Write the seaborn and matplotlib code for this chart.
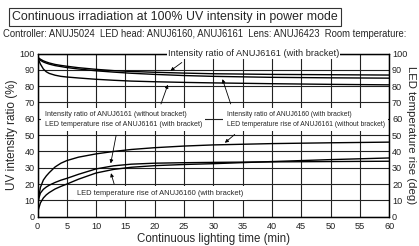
import matplotlib
matplotlib.use("Agg")
import matplotlib.pyplot as plt
import seaborn as sns
import pandas as pd

# time axis (min)
t = [0, 0.2, 0.5, 1, 1.5, 2, 3, 4, 5, 7, 10, 13, 16, 20, 25, 30, 40, 50, 60]

# UV intensity ratio (%)
ratio_6161_with = [98, 97.3, 96.5, 95.5, 94.8, 94.2, 93.3, 92.7, 92.2, 91.3, 90.3, 89.5, 89, 88.5, 88, 87.6, 87.2, 87, 86.8]
ratio_6160_with = [97, 96.5, 95.8, 94.8, 94.1, 93.5, 92.6, 92, 91.4, 90.5, 89.4, 88.6, 87.9, 87.2, 86.5, 86, 85.4, 85.1, 84.9]
ratio_6161_without = [98, 96, 93.5, 90.5, 88.8, 87.8, 86.7, 86, 85.6, 85, 84.2, 83.6, 83.1, 82.7, 82.3, 82, 81.5, 81.1, 80.8]

# LED temperature rise (deg)
temp_6161_without = [2, 12, 18, 22.5, 25, 27, 30.5, 32.8, 34.4, 36.5, 38.5, 40, 41.2, 42.3, 43.3, 44, 44.8, 45.3, 45.7]
temp_6161_with = [6, 11, 14.5, 16.8, 18.2, 19.3, 21, 22.4, 23.5, 26, 29.3, 31.2, 32.2, 32.8, 33.1, 33.3, 33.6, 33.8, 34]
temp_6160_with = [2, 5, 8.5, 11.5, 13.4, 14.8, 17, 18.6, 20, 23, 26.8, 29, 30.3, 31.3, 32, 32.5, 33.8, 35, 36]

title = "Continuous irradiation at 100% UV intensity in power mode"
subtitle = "Controller: ANUJ5024  LED head: ANUJ6160, ANUJ6161  Lens: ANUJ6423  Room temperature:"

sns.set_style("white")
plt.rcParams["font.family"] = ["Liberation Sans", "DejaVu Sans"]
narrow = ["Liberation Sans Narrow", "Liberation Sans", "DejaVu Sans"]

ratio = pd.DataFrame({"t": t * 3,
                      "v": ratio_6161_with + ratio_6160_with + ratio_6161_without,
                      "s": ["a"] * len(t) + ["b"] * len(t) + ["c"] * len(t)})
temp = pd.DataFrame({"t": t * 3,
                     "v": temp_6161_without + temp_6161_with + temp_6160_with,
                     "s": ["d"] * len(t) + ["e"] * len(t) + ["f"] * len(t)})

fig = plt.figure(figsize=(4.19, 2.46), dpi=100)
ax = fig.add_axes([0.0895, 0.119, 0.8395, 0.6635])
ax2 = ax.twinx()

sns.lineplot(data=ratio, x="t", y="v", units="s", estimator=None, color="black",
             lw=1.0, ax=ax, zorder=3)
sns.lineplot(data=temp, x="t", y="v", units="s", estimator=None, color="black",
             lw=1.0, ax=ax2, zorder=3)

for a in (ax, ax2):
    a.set_xlim(0, 60)
    a.set_ylim(0, 100)
    a.set_yticks(range(0, 101, 10))
    a.tick_params(length=0, pad=2, labelsize=6.6, colors="#222222")
    for sp in a.spines.values():
        sp.set_color("black")
        sp.set_linewidth(0.9)
ax.tick_params(axis="x", pad=3.5)
ax.set_xticks(range(0, 61, 5))
ax.grid(True, color="#222222", lw=0.8)
ax.set_axisbelow(True)
ax2.grid(False)
ax2.patch.set_visible(False)

ax.set_xlabel("Continuous lighting time (min)", fontsize=8.3, labelpad=2)
ax.set_ylabel("UV intensity ratio (%)", fontsize=8.5, labelpad=1)
ax2.set_ylabel("LED temperature rise (deg)", fontsize=8.2, rotation=270, labelpad=6)

arr = dict(arrowstyle="-|>", color="black", lw=0.6, mutation_scale=5)
wbox = dict(facecolor="white", edgecolor="none", pad=2.5)

# annotations
ax2.text(36.8, 100, "Intensity ratio of ANUJ6161 (with bracket)", fontsize=6.7,
         family=narrow, ha="center", va="center",
         bbox=dict(facecolor="white", edgecolor="none", pad=0.6), zorder=5)
ax2.annotate("", xy=(22.3, 88.4), xytext=(25, 95.5), arrowprops=arr, zorder=5)

ax2.text(1.2, 59.5, "Intensity ratio of ANUJ6161 (without bracket)\nLED temperature rise of ANUJ6161 (with bracket)",
         fontsize=5.1, family=narrow, ha="left", va="center", linespacing=1.45,
         bbox=wbox, zorder=5)
ax2.annotate("", xy=(22.4, 82.5), xytext=(20.9, 67.5), arrowprops=arr, zorder=5)
ax2.annotate("", xy=(12.4, 31), xytext=(13.5, 51.5), arrowprops=arr, zorder=5)

ax2.text(32.3, 59.5, "Intensity ratio of ANUJ6160 (with bracket)\nLED temperature rise of ANUJ6161 (without bracket)",
         fontsize=4.9, family=narrow, ha="left", va="center", linespacing=1.5,
         bbox=wbox, zorder=5)
ax2.annotate("", xy=(31.4, 85.9), xytext=(33.1, 67.5), arrowprops=arr, zorder=5)
ax2.annotate("", xy=(31.6, 44.2), xytext=(34, 51.5), arrowprops=arr, zorder=5)

ax2.text(6.8, 14.3, "LED temperature rise of ANUJ6160 (with bracket)", fontsize=5.4,
         family=narrow, ha="left", va="center", bbox=wbox, zorder=5)
ax2.annotate("", xy=(12.4, 28.3), xytext=(13.2, 18.5), arrowprops=arr, zorder=5)

fig.text(0.028, 0.93, title, fontsize=8.9, ha="left", va="center",
         bbox=dict(facecolor="white", edgecolor="#333333", lw=0.8, boxstyle="square,pad=0.25"))
fig.text(0.008, 0.86, subtitle, fontsize=6.85, family=narrow, ha="left", va="center")

fig.savefig("out.png", dpi=100)
